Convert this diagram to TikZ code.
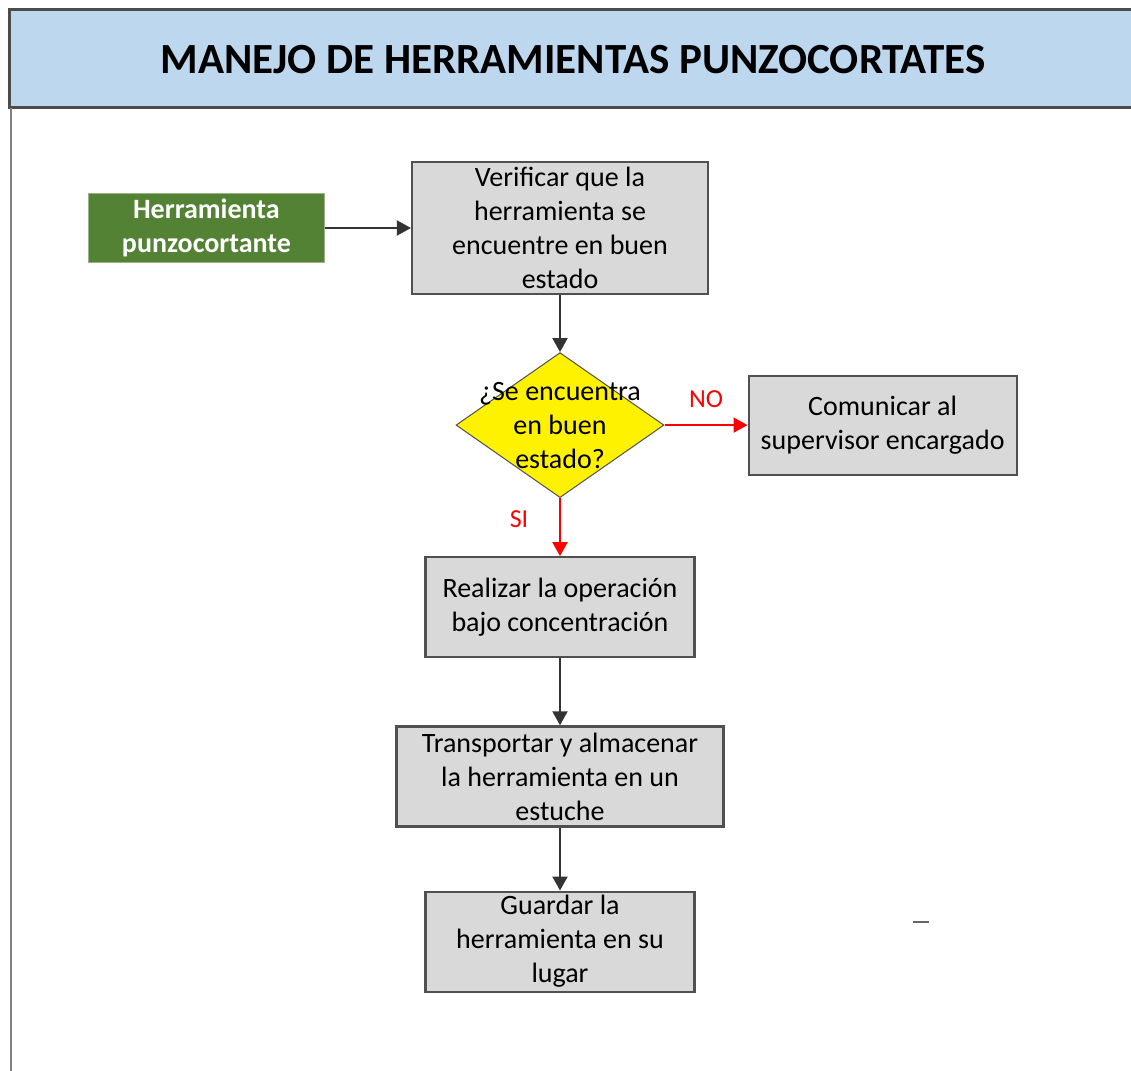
\documentclass[tikz,border=0pt]{standalone}
\usepackage{fontspec}
\setmainfont{Carlito}
\definecolor{herrBand}{RGB}{189,215,238}
\definecolor{herrGreen}{RGB}{84,130,53}
\definecolor{herrGray}{RGB}{217,217,217}
\definecolor{herrEdge}{RGB}{80,80,80}
\definecolor{herrRed}{RGB}{255,0,0}
\usetikzlibrary{arrows.meta,positioning,shapes.geometric}

\begin{document}
\begin{tikzpicture}[x=1pt, y=-1pt,
  proc/.style={draw=herrEdge, line width=2.2pt, fill=herrGray, inner sep=0pt,
               align=center, font=\fontsize{28}{34}\selectfont},
  flow/.style={-{Triangle[length=14pt,width=15pt]}, line width=2pt, black!80},
  redflow/.style={flow, herrRed},
  tag/.style={inner sep=0pt, text=herrRed, font=\fontsize{26}{30}\selectfont}
]
  \useasboundingbox (0,0) rectangle (1131,1070);

  % frame and title band
  \fill[herrBand] (9,10) rectangle (1140,108);
  \draw[line width=3pt, black!70] (1140,10) -- (9,10) -- (9,108) -- (1140,108);
  \draw[line width=2.5pt, black!50] (11,108) -- (11,1080);
  \node[font=\bfseries\fontsize{43}{50}\selectfont] (title) at (573,60)
    {MANEJO DE HERRAMIENTAS PUNZOCORTATES};

  % steps
  \node[proc, minimum width=296pt, minimum height=132pt] (verif) at (560,228)
    {Verificar que la\\herramienta se\\encuentre en buen\\estado};
  \node[proc, fill=herrGreen, draw=herrGreen!60!white, line width=1pt, text=white,
        font=\bfseries\fontsize{28}{34}\selectfont,
        minimum width=236pt, minimum height=69pt, left=86pt of verif] (tool)
    {Herramienta\\punzocortante};
  \node[diamond, draw=herrEdge, line width=1pt, fill=yellow, inner sep=0pt,
        minimum width=208pt, minimum height=145pt, below=57pt of verif] (dec) {};
  \node[align=center, inner sep=0pt, font=\fontsize{28}{34}\selectfont] (dectext)
    at (dec.center) {¿Se encuentra\\en buen\\estado?};
  \node[proc, minimum width=268pt, minimum height=99pt, right=83pt of dec] (comm)
    {Comunicar al\\supervisor encargado};
  \node[proc, minimum width=269pt, minimum height=100pt, below=58pt of dec] (realiz)
    {Realizar la operación\\bajo concentración};
  \node[proc, minimum width=327pt, minimum height=100pt, below=67pt of realiz] (transp)
    {Transportar y almacenar\\la herramienta en un\\estuche};
  \node[proc, minimum width=269pt, minimum height=100pt, below=63pt of transp] (guard)
    {Guardar la\\herramienta en su\\lugar};

  % connectors
  \draw[flow] (tool) -- (verif);
  \draw[flow] (verif) -- (dec);
  \draw[redflow] (dec.east) -- node[tag, yshift=26pt] {NO} (comm);
  \draw[redflow] (dec.south) -- node[tag, pos=0.37, xshift=-41pt] {SI} (realiz);
  \draw[flow] (realiz) -- (transp);
  \draw[flow] (transp) -- (guard);

  % stray mark
  \draw[line width=2pt, black!60] (913,922) -- (929,922);
\end{tikzpicture}
\end{document}
